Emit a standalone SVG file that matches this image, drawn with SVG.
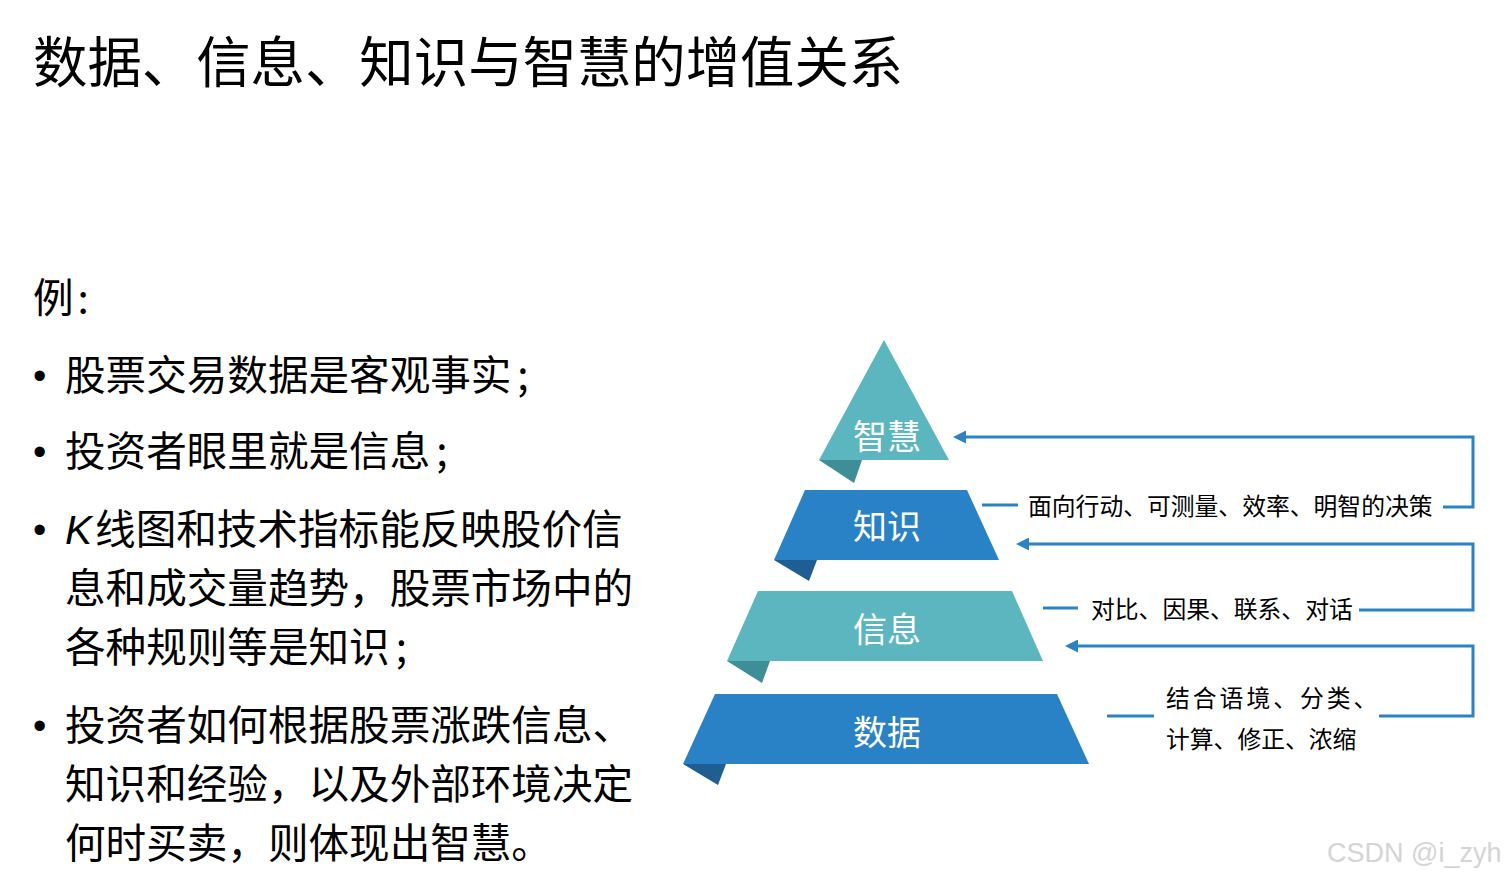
<svg xmlns="http://www.w3.org/2000/svg" width="1504" height="877" viewBox="0 0 1504 877">
<defs>
<style>
.t{font-family:"Noto Sans CJK SC","Liberation Sans",sans-serif;fill:#000}
.title{font-size:54.4px}
.body{font-size:40.6px}
.bul{font-family:"Liberation Sans",sans-serif;font-size:38px;fill:#000}
.lbl{font-family:"Noto Sans CJK SC",sans-serif;font-size:34px;fill:#fff;text-anchor:middle}
.note{font-family:"Noto Sans CJK SC",sans-serif;font-size:23.8px;fill:#000}
.teal{fill:#5BB6BF}
.blue{fill:#2982C6}
.tealD{fill:#3D8E96}
.blueD{fill:#1F5E92}
.conn{fill:none;stroke:#2B83C6;stroke-width:3}
</style>
<marker id="ah" markerUnits="userSpaceOnUse" markerWidth="14" markerHeight="13" refX="3" refY="6.5" orient="auto">
<path d="M0,0 L13,6.5 L0,13 z" fill="#2B83C6"/>
</marker>
</defs>
<rect width="1504" height="877" fill="#fff"/>

<g id="title"><text class="t title" x="33" y="82">数据、信息、知识与智慧的增值关系</text></g>

<g id="example">
<text class="t body" x="33" y="313">例<tspan dx="4">:</tspan></text>
<text class="bul" x="33" y="389">•</text>
<text class="t body" x="65" y="390">股票交易数据是客观事实<tspan dx="6">;</tspan></text>
<text class="bul" x="33" y="465">•</text>
<text class="t body" x="65" y="466">投资者眼里就是信息<tspan dx="6">;</tspan></text>
<text class="bul" x="33" y="543">•</text>
<text class="t body" x="65" y="544"><tspan font-style="italic" style="font-family:'Liberation Sans',sans-serif;font-style:italic">K</tspan><tspan dx="3">线图和技术指标能反映股价信</tspan></text>
<text class="t body" x="65" y="603">息和成交量趋势，股票市场中的</text>
<text class="t body" x="65" y="662">各种规则等是知识<tspan dx="6">;</tspan></text>
<text class="bul" x="33" y="739">•</text>
<text class="t body" x="65" y="740">投资者如何根据股票涨跌信息、</text>
<text class="t body" x="65" y="799">知识和经验，以及外部环境决定</text>
<text class="t body" x="65" y="858">何时买卖，则体现出智慧。</text>
</g>

<g id="wisdom">
<polygon class="tealD" points="819,460 862,460 854,483"/>
<polygon class="teal" points="884,340 949,460 819,460"/>
<text class="lbl" x="887" y="449">智慧</text>
</g>
<g id="knowledge">
<polygon class="blueD" points="774,560 817,560 809,581"/>
<polygon class="blue" points="805,490 967,490 999,560 774,560"/>
<text class="lbl" x="887" y="539">知识</text>
</g>
<g id="information">
<polygon class="tealD" points="727,661 770,661 762,683"/>
<polygon class="teal" points="758,591 1012,591 1043,661 727,661"/>
<text class="lbl" x="887" y="642">信息</text>
</g>
<g id="data">
<polygon class="blueD" points="683,764 726,764 718,785"/>
<polygon class="blue" points="715,694 1057,694 1089,764 683,764"/>
<text class="lbl" x="887" y="745">数据</text>
</g>

<g id="connectors">
<path class="conn" d="M1443,507 H1473 V437 H963" marker-end="url(#ah)"/>
<path class="conn" d="M982,505 H1018"/>
<path class="conn" d="M1359,610 H1473 V544 H1026" marker-end="url(#ah)"/>
<path class="conn" d="M1043,608 H1078"/>
<path class="conn" d="M1379,716 H1473 V646 H1075" marker-end="url(#ah)"/>
<path class="conn" d="M1107,716 H1154"/>
</g>

<g id="labels">
<text class="note" x="1028" y="515">面向行动、可测量、效率、明智的决策</text>
<text class="note" x="1091" y="618">对比、因果、联系、对话</text>
<text class="note" x="1166" y="707" letter-spacing="3">结合语境、分类、</text>
<text class="note" x="1166" y="748">计算、修正、浓缩</text>
</g>

<g id="watermark">
<text x="1327" y="862" style="font-family:'Liberation Sans',sans-serif;font-size:27px;fill:#d4d4d4">CSDN @i_zyh</text>
</g>
</svg>
